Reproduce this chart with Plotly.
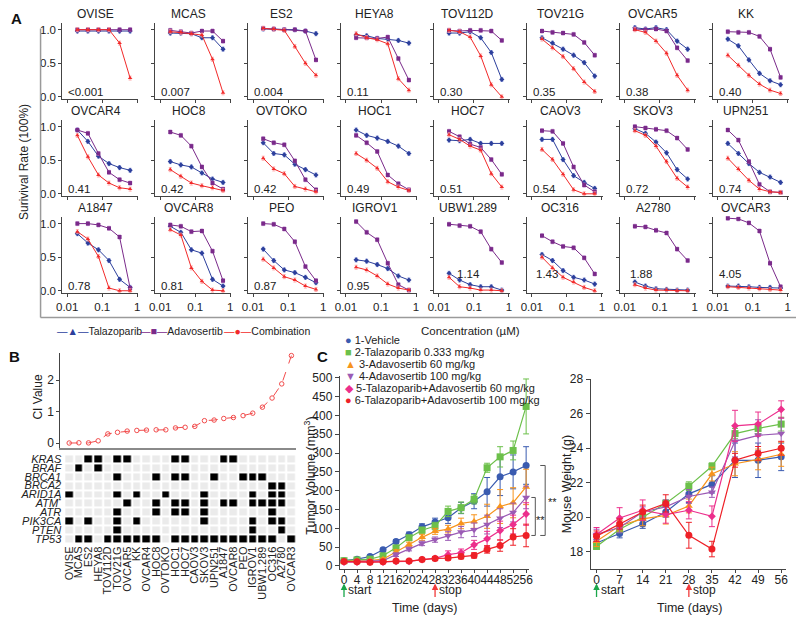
import plotly.graph_objects as go

# ---------------- data ----------------
conc = [0.0195, 0.039, 0.078, 0.156, 0.3125, 0.625]

cell_lines = ["OVISE", "MCAS", "ES2", "HEYA8", "TOV112D", "TOV21G", "OVCAR5", "KK",
              "OVCAR4", "HOC8", "OVTOKO", "HOC1", "HOC7", "CAOV3", "SKOV3", "UPN251",
              "A1847", "OVCAR8", "PEO", "IGROV1", "UBW1.289", "OC316", "A2780", "OVCAR3"]

ci_text = ["<0.001", "0.007", "0.004", "0.11", "0.30", "0.35", "0.38", "0.40",
           "0.41", "0.42", "0.42", "0.49", "0.51", "0.54", "0.72", "0.74",
           "0.78", "0.81", "0.87", "0.95", "1.14", "1.43", "1.88", "4.05"]

talazoparib = [
    [0.98, 0.98, 0.98, 0.98, 0.98, 0.98],
    [0.95, 0.95, 0.94, 0.88, 0.88, 0.71],
    [1.01, 1.01, 1.00, 1.00, 0.98, 0.94],
    [0.92, 0.91, 0.87, 0.86, 0.84, 0.80],
    [0.95, 0.95, 0.97, 0.88, 0.66, 0.26],
    [0.88, 0.80, 0.71, 0.62, 0.51, 0.31],
    [1.03, 1.01, 1.03, 1.00, 0.83, 0.71],
    [0.86, 0.76, 0.55, 0.35, 0.24, 0.18],
    [0.95, 0.78, 0.56, 0.45, 0.39, 0.35],
    [0.48, 0.43, 0.40, 0.31, 0.22, 0.17],
    [0.76, 0.60, 0.58, 0.44, 0.36, 0.28],
    [0.95, 0.87, 0.83, 0.78, 0.71, 0.60],
    [0.80, 0.79, 0.81, 0.75, 0.75, 0.75],
    [0.81, 0.81, 0.51, 0.27, 0.17, 0.08],
    [0.97, 0.90, 0.77, 0.61, 0.36, 0.22],
    [0.75, 0.60, 0.45, 0.32, 0.25, 0.17],
    [0.85, 0.71, 0.61, 0.45, 0.17, 0.05],
    [0.96, 0.87, 0.61, 0.56, 0.17, 0.07],
    [0.62, 0.45, 0.31, 0.27, 0.20, 0.12],
    [0.46, 0.44, 0.39, 0.33, 0.22, 0.16],
    [0.26, 0.16, 0.09, 0.06, 0.06, 0.01],
    [0.54, 0.45, 0.30, 0.20, 0.16, 0.10],
    [0.13, 0.07, 0.03, 0.02, 0.01, 0.01],
    [0.07, 0.07, 0.06, 0.05, 0.05, 0.04],
]

adavosertib = [
    [1.00, 1.00, 1.00, 1.00, 1.00, 1.00],
    [0.99, 0.97, 0.95, 0.98, 0.98, 0.83],
    [1.02, 1.01, 1.00, 1.00, 0.98, 0.55],
    [0.88, 0.88, 0.87, 0.89, 0.57, 0.25],
    [0.99, 0.98, 0.99, 0.99, 0.98, 0.84],
    [0.98, 0.96, 0.95, 0.93, 0.81, 0.62],
    [1.01, 1.00, 1.01, 0.98, 0.73, 0.54],
    [0.97, 0.96, 0.96, 0.90, 0.71, 0.29],
    [0.95, 0.90, 0.60, 0.32, 0.21, 0.16],
    [0.92, 0.87, 0.71, 0.40, 0.16, 0.07],
    [0.82, 0.76, 0.73, 0.49, 0.21, 0.06],
    [0.87, 0.76, 0.63, 0.28, 0.15, 0.06],
    [0.93, 0.85, 0.74, 0.69, 0.51, 0.29],
    [0.94, 0.93, 0.75, 0.40, 0.13, 0.03],
    [1.00, 0.98, 0.96, 0.94, 0.83, 0.66],
    [0.95, 0.80, 0.48, 0.14, 0.03, 0.02],
    [1.00, 1.00, 0.98, 0.93, 0.80, 0.04],
    [0.98, 0.96, 0.88, 0.89, 0.59, 0.15],
    [1.00, 0.99, 0.92, 0.73, 0.36, 0.15],
    [1.03, 0.87, 0.76, 0.41, 0.09, 0.01],
    [0.99, 0.97, 0.96, 0.88, 0.62, 0.42],
    [0.82, 0.73, 0.66, 0.64, 0.49, 0.25],
    [0.96, 0.95, 0.90, 0.86, 0.62, 0.45],
    [1.08, 1.07, 1.01, 0.89, 0.41, 0.06],
]

combination = [
    [1.00, 1.00, 1.00, 1.00, 0.80, 0.28],
    [0.97, 0.96, 0.94, 0.92, 0.56, 0.06],
    [1.02, 1.01, 0.99, 0.75, 0.50, 0.32],
    [0.94, 0.88, 0.85, 0.79, 0.27, 0.10],
    [0.99, 0.97, 0.89, 0.61, 0.18, 0.00],
    [0.86, 0.73, 0.60, 0.42, 0.22, 0.08],
    [1.00, 0.96, 0.83, 0.65, 0.32, 0.10],
    [0.62, 0.47, 0.32, 0.19, 0.10, 0.05],
    [0.87, 0.55, 0.28, 0.16, 0.09, 0.07],
    [0.36, 0.26, 0.16, 0.12, 0.09, 0.05],
    [0.53, 0.37, 0.30, 0.11, 0.07, 0.03],
    [0.60, 0.50, 0.38, 0.18, 0.10, 0.05],
    [0.88, 0.81, 0.71, 0.65, 0.30, 0.10],
    [0.66, 0.51, 0.29, 0.06, 0.00, 0.00],
    [0.94, 0.87, 0.71, 0.48, 0.23, 0.10],
    [0.53, 0.37, 0.20, 0.07, 0.03, 0.02],
    [0.88, 0.77, 0.51, 0.04, 0.00, 0.00],
    [0.91, 0.83, 0.34, 0.14, 0.01, 0.00],
    [0.47, 0.34, 0.21, 0.16, 0.07, 0.02],
    [0.35, 0.31, 0.22, 0.10, 0.04, 0.01],
    [0.20, 0.06, 0.04, 0.01, 0.01, 0.00],
    [0.50, 0.34, 0.20, 0.13, 0.05, 0.00],
    [0.09, 0.04, 0.01, 0.01, 0.00, 0.00],
    [0.06, 0.05, 0.04, 0.03, 0.02, 0.01],
]

# Panel B
ci_plot = [0.0, 0.007, 0.004, 0.07, 0.29, 0.34, 0.38, 0.40, 0.41, 0.42, 0.42, 0.48,
           0.50, 0.53, 0.71, 0.73, 0.78, 0.81, 0.87, 0.95, 1.14, 1.43, 1.88, 2.78]
genes = ["KRAS", "BRAF", "BRCA1", "BRCA2", "ARID1A", "ATM", "ATR", "PIK3CA", "PTEN", "TP53"]
mut_KRAS   = [0,0,1,1,0,1,1,0,0,0,0,1,1,0,0,0,1,1,0,0,0,0,0,0]
mut_BRAF   = [0,1,0,1,0,0,0,0,0,0,0,0,0,0,0,0,0,0,0,0,0,0,0,0]
mut_BRCA1  = [0,0,0,0,0,1,0,0,0,1,0,1,1,0,0,1,0,0,1,1,1,0,0,0]
mut_BRCA2  = [0,0,0,0,0,0,0,0,0,0,0,0,0,0,0,0,0,0,0,0,0,1,1,0]
mut_ARID1A = [1,0,0,0,0,1,0,1,0,0,1,0,0,0,1,0,0,0,0,1,0,1,1,0]
mut_ATM    = [0,0,0,0,0,0,1,0,0,1,0,1,1,0,1,0,1,1,0,1,1,1,1,0]
mut_ATR    = [0,0,0,0,0,1,0,0,0,1,0,1,1,0,1,0,0,0,0,0,0,1,0,0]
mut_PIK3CA = [1,0,1,0,0,1,0,1,0,0,0,0,0,0,1,0,0,0,0,1,0,1,1,0]
mut_PTEN   = [0,0,0,0,0,1,0,0,0,0,0,0,0,0,0,0,0,0,0,1,0,0,1,0]
mut_TP53   = [0,1,1,0,1,1,1,1,1,1,0,1,1,1,1,1,1,1,1,1,1,1,0,1]

# Panel C
groups = ["1-Vehicle", "2-Talazoparib 0.333 mg/kg", "3-Adavosertib 60 mg/kg",
          "4-Adavosertib 100 mg/kg", "5-Talazoparib+Adavosertib 60 mg/kg",
          "6-Talazoparib+Adavosertib 100 mg/kg"]
tumor_days = [0, 4, 8, 12, 16, 20, 24, 28, 32, 36, 40, 44, 48, 52, 56]
tumor_vehicle = [14, 18, 25, 43, 65, 83, 104, 117, 128, 154, 172, 197, 237, 250, 267]
tumor_tal     = [14, 16, 18, 27, 48, 75, 95, 106, 145, 155, 177, 261, 290, 307, 424]
tumor_ada60   = [12, 13, 14, 18, 38, 57, 76, 92, 98, 113, 118, 132, 158, 168, 210]
tumor_ada100  = [11, 12, 12, 14, 30, 45, 60, 70, 80, 90, 96, 110, 127, 142, 182]
tumor_combo60 = [10, 10, 10, 10, 12, 12, 17, 20, 30, 35, 56, 72, 94, 110, 138]
tumor_combo100 = [12, 11, 10, 11, 13, 13, 17, 20, 21, 25, 28, 44, 54, 77, 81]
tumor_err_vehicle = [3, 3, 4, 4, 5, 7, 8, 10, 15, 15, 20, 38, 50, 45, 50]
tumor_err_tal     = [3, 3, 3, 4, 5, 6, 8, 10, 14, 15, 12, 12, 27, 25, 73]
tumor_err_ada60   = [3, 3, 3, 3, 5, 6, 8, 8, 10, 14, 18, 32, 45, 40, 47]
tumor_err_ada100  = [3, 3, 3, 3, 5, 5, 6, 7, 12, 15, 18, 25, 25, 25, 30]
tumor_err_combo60 = [3, 3, 3, 3, 3, 3, 3, 5, 10, 10, 12, 20, 25, 25, 30]
tumor_err_combo100 = [3, 3, 3, 3, 3, 3, 3, 4, 5, 6, 7, 10, 15, 22, 30]

weight_days = [0, 7, 14, 21, 28, 35, 42, 49, 56]
weight_vehicle = [18.5, 19.05, 19.6, 20.3, 21.35, 21.9, 23.3, 23.3, 23.5]
weight_tal     = [18.3, 19.3, 20.0, 20.8, 21.8, 22.95, 24.85, 25.15, 25.4]
weight_ada60   = [18.6, 19.5, 19.9, 20.1, 20.65, 22.5, 23.1, 23.35, 23.65]
weight_ada100  = [19.0, 19.4, 20.3, 20.6, 21.2, 21.45, 24.4, 24.75, 24.85]
weight_combo60 = [19.0, 19.95, 20.4, 20.15, 20.4, 20.05, 25.3, 25.4, 26.25]
weight_combo100 = [18.9, 19.6, 20.3, 20.8, 18.95, 18.15, 23.3, 23.7, 24.0]
weight_err_vehicle = [0.2, 0.25, 0.25, 0.3, 0.5, 0.5, 1.0, 1.0, 0.8]
weight_err_tal     = [0.15, 0.2, 0.2, 0.2, 0.25, 0.2, 0.3, 0.3, 0.4]
weight_err_ada60   = [0.3, 0.3, 0.4, 0.5, 0.4, 0.4, 0.7, 0.6, 0.7]
weight_err_ada100  = [0.3, 0.3, 0.3, 0.4, 0.4, 0.3, 0.9, 0.9, 0.9]
weight_err_combo60 = [0.4, 0.6, 0.6, 0.5, 0.5, 0.6, 0.9, 0.7, 0.5]
weight_err_combo100 = [0.3, 0.3, 0.4, 0.5, 0.75, 0.45, 0.4, 0.4, 0.4]

# ---------------- helpers ----------------
W, H = 800, 621
FONT = "Arial, 'Liberation Sans', Helvetica, sans-serif"
NARROW = "'Liberation Sans Narrow', 'Arial Narrow', 'Liberation Sans', Arial, sans-serif"
TXT = "#222222"
AXC = "#444444"


def px(x):
    return x / W


def py(y):
    return 1 - y / H


def names(n):
    return ("x", "y") if n == 1 else (f"x{n}", f"y{n}")


def note(text, x, y, size=12, xanchor="center", yanchor="middle", angle=0, color=TXT, family=None):
    f = dict(size=size, color=color)
    if family:
        f["family"] = family
    return dict(text=text, x=px(x), y=py(y), xref="paper", yref="paper", showarrow=False,
                xanchor=xanchor, yanchor=yanchor, textangle=angle, font=f)


fig = go.Figure()
layout = {}
annotations = []
shapes = []

BLUE, BLUE_E = "#2c3f9c", "#8e9ce0"
PURPLE, PURPLE_E = "#7a2a8a", "#c08cd0"
RED, RED_E = "#f22a2a", "#ff9c9c"

# ---------------- Panel A ----------------
label_offsets = {"UBW1.289": (21, 17), "OC316": (7, 17), "A2780": (8, 17), "OVCAR3": (4, 17)}
for k, name in enumerate(cell_lines):
    r, c = divmod(k, 8)
    n = k + 1
    xn, yn = names(n)
    x0 = 57 + 94.1 * c
    y0 = 91.5 + 98.7 * r
    unit = 68.4
    layout["xaxis" if n == 1 else f"xaxis{n}"] = dict(
        domain=[px(x0), px(x0 + 77)], anchor=yn, type="log", range=[-2.14, 0.03],
        tickvals=[0.01, 0.1, 1], ticktext=["0.01", "0.1", "1"], showticklabels=(r == 2),
        ticks="outside", ticklen=3, tickcolor=AXC, showline=True, linecolor=AXC, linewidth=1,
        showgrid=False, zeroline=False, tickfont=dict(size=11.5, color=TXT))
    layout["yaxis" if n == 1 else f"yaxis{n}"] = dict(
        domain=[py(y0 + 2.5), py(y0 - 1.1 * unit)], anchor=xn, range=[-0.037, 1.1],
        tickvals=[0, 0.5, 1], ticktext=["0.0", "0.5", "1.0"], showticklabels=(c == 0),
        ticks="outside", ticklen=3, tickcolor=AXC, showline=True, linecolor=AXC, linewidth=1,
        showgrid=False, zeroline=False, tickfont=dict(size=11.5, color=TXT))
    for vals, col, ecol, sym in [(talazoparib[k], BLUE, BLUE_E, "diamond"),
                                 (adavosertib[k], PURPLE, PURPLE_E, "square"),
                                 (combination[k], RED, RED_E, "triangle-up")]:
        fig.add_trace(go.Scatter(
            x=conc, y=vals, xaxis=xn, yaxis=yn, mode="lines+markers",
            line=dict(color=col, width=1), marker=dict(symbol=sym, size=4, color=col),
            error_y=dict(type="constant", value=0.03, color=ecol, thickness=0.8, width=1.5),
            cliponaxis=False, showlegend=False, hoverinfo="skip"))
    annotations.append(note(name, x0 + 34, y0 - 84, size=12))
    dx, dy = label_offsets.get(name, (4, 5))
    annotations.append(note(ci_text[k], x0 + dx, y0 - dy, size=11.5, xanchor="left"))

# frame around panel A
shapes.append(dict(type="line", xref="paper", yref="paper", x0=px(35), x1=px(35), y0=py(22), y1=py(316),
                   line=dict(color="#9a9a9a", width=1.5)))
shapes.append(dict(type="line", xref="paper", yref="paper", x0=px(35), x1=px(800), y0=py(316), y1=py(316),
                   line=dict(color="#9a9a9a", width=1.5)))
annotations.append(note("Surivival Rate (100%)", 18, 158, size=12, angle=-90))
annotations.append(note("Concentration (µM)", 470, 330, size=11.5))
legA = [("▲", BLUE, "Talazoparib", 50), ("■", PURPLE, "Adavosertib", 134), ("●", RED, "Combination", 219)]
for sym, col, lab, xx in legA:
    annotations.append(note(f'<span style="color:{col}">—{sym}—</span>{lab}', xx, 330, size=10.5,
                            xanchor="left"))

# ---------------- Panel B ----------------
nB = 25
xn, yn = names(nB)
layout[f"xaxis{nB}"] = dict(domain=[px(55), px(294)], anchor=yn, range=[-0.92, 23.51], showline=True,
                            linecolor="#8a8a8a", linewidth=1.5, showticklabels=False, ticks="",
                            showgrid=False, zeroline=False)
layout[f"yaxis{nB}"] = dict(domain=[py(449), py(352)], anchor=xn, range=[-0.16, 2.87], tickvals=[0, 1, 2],
                            ticks="outside", ticklen=3, tickcolor=AXC, showline=True, linecolor=AXC,
                            linewidth=1, showgrid=False, zeroline=False, tickfont=dict(size=12, color=TXT))
fig.add_trace(go.Scatter(x=list(range(len(cell_lines))), y=ci_plot, xaxis=xn, yaxis=yn,
                         mode="lines+markers", line=dict(color="#f24c4c", width=1, dash="dash"),
                         marker=dict(symbol="circle-open", size=4.5, color="#f24c4c", line=dict(width=1)),
                         showlegend=False, hoverinfo="skip", cliponaxis=False))
annotations.append(note("CI Value", 32, 397, size=12, angle=-90))

nH = 26
xn, yn = names(nH)
mutations = [mut_KRAS, mut_BRAF, mut_BRCA1, mut_BRCA2, mut_ARID1A, mut_ATM, mut_ATR, mut_PIK3CA, mut_PTEN, mut_TP53]
gene_ticks = [f"<i>{g}</i>" if g != "ATM" else "<i>ATM</i><sup>*</sup>" for g in genes]
layout[f"xaxis{nH}"] = dict(domain=[px(59), px(294)], anchor=yn, range=[-0.5, 23.5],
                            tickvals=list(range(len(cell_lines))), ticktext=cell_lines, tickangle=-90,
                            ticks="", showline=False, showgrid=False, zeroline=False,
                            tickfont=dict(size=11, color=TXT, family=NARROW))
layout[f"yaxis{nH}"] = dict(domain=[py(546), py(455.5)], anchor=xn, range=[9.5, -0.5],
                            tickvals=list(range(len(genes))), ticktext=gene_ticks, ticks="",
                            showline=False, showgrid=False, zeroline=False, ticklabelstandoff=2,
                            tickfont=dict(size=11, color=TXT, family=NARROW))
fig.add_trace(go.Heatmap(z=mutations, x=list(range(len(cell_lines))), y=list(range(len(genes))),
                         xaxis=xn, yaxis=yn, colorscale=[[0, "#ebebeb"], [1, "#000000"]], zmin=0, zmax=1,
                         showscale=False, xgap=2.3, ygap=2, hoverinfo="skip"))

# ---------------- Panel C ----------------
C_COLS = ["#3a5bb0", "#6cc04a", "#f7941d", "#9b5bb5", "#ec2f8c", "#ee2027"]
C_SYMS = ["circle", "square", "triangle-up", "triangle-down", "diamond", "circle"]
C_GLYPH = ["●", "■", "▲", "▼", "◆", "●"]
tumor_series = [tumor_vehicle, tumor_tal, tumor_ada60, tumor_ada100, tumor_combo60, tumor_combo100]
tumor_errs = [tumor_err_vehicle, tumor_err_tal, tumor_err_ada60, tumor_err_ada100, tumor_err_combo60, tumor_err_combo100]
weight_series = [weight_vehicle, weight_tal, weight_ada60, weight_ada100, weight_combo60, weight_combo100]
weight_errs = [weight_err_vehicle, weight_err_tal, weight_err_ada60, weight_err_ada100, weight_err_combo60, weight_err_combo100]

nT, nW = 27, 28
xT, yT = names(nT)
xW, yW = names(nW)
ycommon = dict(ticks="outside", ticklen=4, tickcolor=AXC, showline=True, linecolor=AXC, linewidth=1,
               showgrid=False, zeroline=False, tickfont=dict(size=12, color=TXT))
xcommon = dict(ticks="outside", ticklen=3, tickcolor=AXC, showline=True, linecolor=AXC, linewidth=1,
               showgrid=False, zeroline=False, tickfont=dict(size=12, color=TXT), tickangle=0,
               ticklabelstandoff=-3)
layout[f"xaxis{nT}"] = dict(domain=[px(338), px(530)], anchor=yT, range=[-1.3, 57.0],
                            tickvals=tumor_days, **xcommon)
layout[f"yaxis{nT}"] = dict(domain=[py(572), py(376)], anchor=xT, range=[-7.8, 504],
                            tickvals=list(range(0, 501, 50)), **ycommon)
layout[f"xaxis{nW}"] = dict(domain=[px(592), px(790)], anchor=yW, range=[-1.8, 57.5],
                            tickvals=weight_days, **xcommon)
layout[f"yaxis{nW}"] = dict(domain=[py(572), py(379)], anchor=xW, range=[17, 28],
                            tickvals=[18, 20, 22, 24, 26, 28], **ycommon)

for i in range(6):
    fig.add_trace(go.Scatter(x=tumor_days, y=tumor_series[i], xaxis=xT, yaxis=yT, mode="lines+markers",
                             line=dict(color=C_COLS[i], width=1.2),
                             marker=dict(symbol=C_SYMS[i], size=7 if i != 4 else 6, color=C_COLS[i]),
                             error_y=dict(type="data", array=tumor_errs[i], color=C_COLS[i], thickness=1, width=3),
                             showlegend=False, hoverinfo="skip", cliponaxis=False))
    fig.add_trace(go.Scatter(x=weight_days, y=weight_series[i], xaxis=xW, yaxis=yW, mode="lines+markers",
                             line=dict(color=C_COLS[i], width=1.2),
                             marker=dict(symbol=C_SYMS[i], size=7 if i != 4 else 6, color=C_COLS[i]),
                             error_y=dict(type="data", array=weight_errs[i], color=C_COLS[i], thickness=1, width=3),
                             showlegend=False, hoverinfo="skip", cliponaxis=False))
    annotations.append(note(f'<span style="color:{C_COLS[i]}">{C_GLYPH[i]}</span> {groups[i]}',
                            341, 339 + 12.3 * i, size=11, xanchor="left"))

# axis titles
annotations += [
    note("Tumor Volume (mm<sup>3</sup>)", 307, 477, size=12.5, angle=-90),
    note("Mouse Weight (g)", 568, 486, size=12.5, angle=-90),
    note("Time (days)", 424, 612, size=12.5),
    note("Time (days)", 693, 612, size=12.5),
]
# start / stop arrows
for xa, day, col, lab in [(xT, 0, "#1aa64a", "start"), (xT, 28, "#f23b3b", "stop"),
                          (xW, 0, "#1aa64a", "start"), (xW, 28, "#f23b3b", "stop")]:
    annotations.append(dict(text="", x=day, xref=xa, y=py(587), yref="paper", showarrow=True,
                            ax=0, ay=15, arrowhead=2, arrowsize=1, arrowwidth=1.3, arrowcolor=col))
    annotations.append(dict(text=lab, x=day, xref=xa, y=py(594), yref="paper", showarrow=False,
                            xanchor="left", yanchor="middle", xshift=2, font=dict(size=12, color=TXT)))


# significance brackets
def bracket(xpx, xl, ytop, ybot):
    for (a0, a1, b0, b1) in [(xl, xpx, ytop, ytop), (xpx, xpx, ytop, ybot), (xl, xpx, ybot, ybot)]:
        shapes.append(dict(type="line", xref="paper", yref=yT, x0=px(a0), x1=px(a1), y0=b0, y1=b1,
                           line=dict(color="#555555", width=1)))


bracket(536, 532, tumor_ada100[-1], tumor_combo100[-1])
bracket(546, 541, tumor_vehicle[-1], tumor_combo100[-1])
annotations.append(note("**", 541, 522, size=11))
annotations.append(note("**", 553, 504, size=11))

# panel letters
for lab, xx, yy in [("A", 11, 12), ("B", 9, 356), ("C", 320, 356)]:
    annotations.append(note(f"<b>{lab}</b>", xx, yy, size=15, color="#111"))

fig.update_layout(width=W, height=H, margin=dict(l=0, r=0, t=0, b=0), paper_bgcolor="white",
                  plot_bgcolor="white", showlegend=False, font=dict(family=FONT, size=11, color=TXT),
                  annotations=annotations, shapes=shapes, **layout)
fig.write_html("out.html", config={"displayModeBar": False},
               post_script="document.body.style.margin='0';document.body.style.overflow='hidden';")
